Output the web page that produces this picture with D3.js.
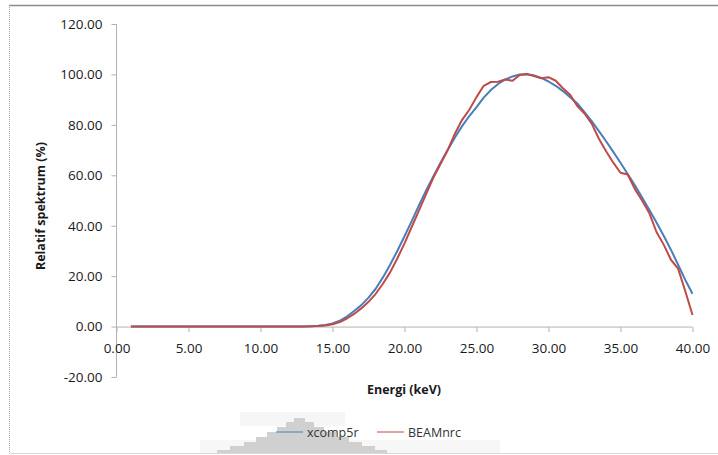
<!DOCTYPE html>
<html>
<head>
<meta charset="utf-8">
<script src="https://cdn.jsdelivr.net/npm/d3@7"></script>
<style>
  body { margin: 0; background: #fff; }
  svg { display: block; font-family: "Open Sans", sans-serif; }
</style>
</head>
<body>
<div class="board"></div>
<script>
// data, energies 1..40 keV every 0.5
const energies = d3.range(1, 40.01, 0.5);

const xcomp5r = [
  0, 0, 0, 0, 0, 0, 0, 0, 0, 0, 0, 0, 0, 0, 0, 0, 0, 0, 0, 0, 0, 0, 0, 0, 0,
  0.1, 0.3, 0.6, 1.2, 2.3, 4.0, 6.2, 8.5, 11.5, 15, 19.5, 24.5, 30, 35.8, 41.8,
  48, 54, 59.5, 65, 70, 75, 79.5, 83.5, 87, 90.8, 93.8, 96.2, 98, 99.2, 100, 100.1,
  99.6, 98.6, 97.2, 95.5, 93.4, 91, 88.5, 85, 81.5, 77.5, 73.5, 69.3, 65, 60.5, 56,
  51.2, 46.3, 41.3, 36, 30.5, 24.5, 18.5, 13
];

const beamnrc = [
  0, 0, 0, 0, 0, 0, 0, 0, 0, 0, 0, 0, 0, 0, 0, 0, 0, 0, 0, 0, 0, 0, 0, 0, 0,
  0.1, 0.2, 0.4, 0.9, 1.8, 3.2, 5, 7.2, 9.8, 13, 17, 21.5, 27, 33, 39.5,
  46, 52.5, 59, 64.5, 70, 76.5, 82, 86, 91, 95.5, 97, 97.1, 98, 97.5, 99.8, 100.2,
  99.4, 98.5, 98.9, 97.5, 94.5, 91.9, 87.5, 84.5, 80.5, 74.5, 69.5, 65, 61, 60.3, 54.5,
  50, 45, 37.5, 32.5, 26.5, 23, 14, 4.6
];

const xTicks = [0, 5, 10, 15, 20, 25, 30, 35, 40];
const yTicks = [-20, 0, 20, 40, 60, 80, 100, 120];
const seriesNames = ["xcomp5r", "BEAMnrc"];
const seriesColors = ["#4a7ebb", "#be4b48"];

const width = 718;
const height = 455;

// excel style labels, plain hyphen for the minus
const fmt = d => d.toFixed(2);

const svg = d3.select(".board")
  .append("svg")
  .attr("width", width)
  .attr("height", height);

// chart frame
svg.append("line")
  .attr("x1", 9).attr("x2", width).attr("y1", 5.5).attr("y2", 5.5)
  .attr("stroke", "#8c8c8c").attr("stroke-width", 1.5);
svg.append("line")
  .attr("x1", 9.5).attr("x2", 9.5).attr("y1", 5).attr("y2", height)
  .attr("stroke", "#a6a6a6").attr("stroke-width", 1)
  .attr("stroke-dasharray", "1,1");
svg.append("line")
  .attr("x1", 9).attr("x2", width).attr("y1", 453.5).attr("y2", 453.5)
  .attr("stroke", "#d9d9d9").attr("stroke-width", 1);

// faint watermark behind the legend
svg.append("rect")
  .attr("x", 200).attr("y", 440).attr("width", 300).attr("height", 13)
  .attr("fill", "#f7f7f7");
svg.append("rect")
  .attr("x", 240).attr("y", 412).attr("width", 105).attr("height", 14)
  .attr("fill", "#f6f6f6");
const steps = [
  [217, 453], [217, 450], [230, 450], [230, 446], [244, 446], [244, 442],
  [256, 442], [256, 437], [267, 437], [267, 432], [277, 432], [277, 427],
  [286, 427], [286, 422], [294, 422], [294, 418], [305, 418], [305, 422],
  [314, 422], [314, 427], [324, 427], [324, 432], [336, 432], [336, 437],
  [349, 437], [349, 442], [362, 442], [362, 446], [375, 446], [375, 450],
  [387, 450], [387, 453]
];
svg.append("polygon")
  .attr("points", steps.map(p => p.join(",")).join(" "))
  .attr("fill", "#d0d0d0");

const x = d3.scaleLinear().domain([0, 40]).range([116.5, 692.5]);
const y = d3.scaleLinear().domain([-20, 120]).range([377, 24]);

// y axis
const yAxis = svg.append("g")
  .attr("transform", "translate(116.5,0)")
  .call(d3.axisLeft(y).tickValues(yTicks).tickSize(5).tickPadding(9)
    .tickFormat(fmt));
yAxis.selectAll("path, line").attr("stroke", "#b3b3b3");
yAxis.selectAll("text")
  .attr("font-size", "13.5px").attr("fill", "#1a1a1a")
  .attr("font-family", "Open Sans, sans-serif");
yAxis.select(".domain").attr("d", "M0," + y(120) + "V" + y(-20));

// x axis on the zero line
const xAxis = svg.append("g")
  .attr("transform", "translate(0," + (y(0) + 0.5) + ")")
  .call(d3.axisBottom(x).tickValues(xTicks).tickSize(5).tickPadding(11)
    .tickFormat(fmt));
xAxis.selectAll("path, line").attr("stroke", "#b3b3b3");
xAxis.select(".domain").attr("d", "M" + x(0) + ",0H" + x(40));
xAxis.selectAll("text")
  .attr("font-size", "13.5px").attr("fill", "#1a1a1a")
  .attr("font-family", "Open Sans, sans-serif");

// axis titles
svg.append("text")
  .attr("transform", "translate(45,206) rotate(-90)")
  .attr("text-anchor", "middle")
  .attr("font-size", "12.5px").attr("font-weight", "bold").attr("fill", "#1a1a1a")
  .text("Relatif spektrum (%)");
svg.append("text")
  .attr("x", 404).attr("y", 394)
  .attr("text-anchor", "middle")
  .attr("font-size", "12.5px").attr("font-weight", "bold").attr("fill", "#1a1a1a")
  .text("Energi (keV)");

// series lines
const line = d3.line()
  .x((d, i) => x(energies[i]))
  .y(d => y(d));

[xcomp5r, beamnrc].forEach(function(vals, k) {
  svg.append("path")
    .datum(vals)
    .attr("d", line)
    .attr("fill", "none")
    .attr("stroke", seriesColors[k])
    .attr("stroke-width", 2)
    .attr("stroke-linejoin", "round");
});

// legend
const legendX = [276, 377];
seriesNames.forEach(function(name, k) {
  const g = svg.append("g").attr("transform", "translate(" + legendX[k] + ",432)");
  g.append("line")
    .attr("x1", 0).attr("x2", 27).attr("y1", 0).attr("y2", 0)
    .attr("stroke", seriesColors[k]).attr("stroke-width", 1);
  g.append("text")
    .attr("x", 31).attr("y", 4.5)
    .attr("font-size", "12.5px").attr("fill", "#333")
    .text(name);
});
</script>
</body>
</html>
